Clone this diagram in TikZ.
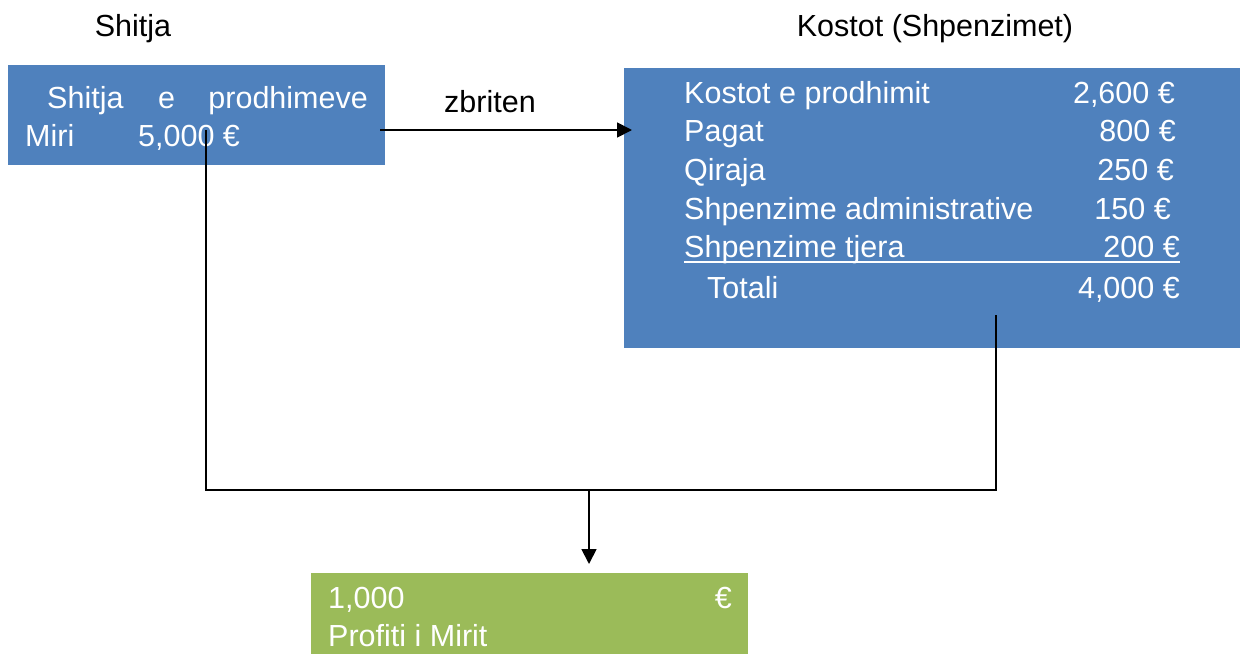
\documentclass[tikz,border=0pt]{standalone}
\usepackage{fontspec}
\setmainfont{Liberation Sans}
\usetikzlibrary{arrows.meta}
\definecolor{boxblue}{HTML}{4F81BD}
\definecolor{boxgreen}{HTML}{9BBB59}
\begin{document}
\begin{tikzpicture}[x=1pt,y=-1pt,
  txt/.style={inner sep=0pt,font=\fontsize{30.5}{33}\selectfont},
  wtxt/.style={txt,text=white},
  conn/.style={draw=black,line width=1.8pt},
  arr/.style={conn,-{Triangle[length=15pt,width=15pt]}}]
\useasboundingbox (0,0) rectangle (1240,654);
% boxes
\fill[boxblue] (8,65) rectangle (385,165);
\fill[boxblue] (624,68) rectangle (1240,348);
\fill[boxgreen] (311,573) rectangle (748,654);
% titles
\node[txt,anchor=base] (t1) at (133,36) {Shitja};
\node[txt,anchor=base] (t2) at (935,36) {Kostot (Shpenzimet)};
% left box text
\node[wtxt,anchor=base west] (l1a) at (47,108) {Shitja};
\node[wtxt,anchor=base west] (l1b) at (158,108) {e};
\node[wtxt,anchor=base east] (l1c) at (368,108) {prodhimeve};
\node[wtxt,anchor=base west] (l2a) at (25,146) {Miri};
\node[wtxt,anchor=base west] (l2b) at (138,146) {5,000 €};
% right box text
\node[wtxt,anchor=base west] (r1) at (684,103) {Kostot e prodhimit};
\node[wtxt,anchor=base east] (v1) at (1175,103) {2,600 €};
\node[wtxt,anchor=base west] (r2) at (684,141) {Pagat};
\node[wtxt,anchor=base east] (v2) at (1176,141) {800 €};
\node[wtxt,anchor=base west] (r3) at (684,180) {Qiraja};
\node[wtxt,anchor=base east] (v3) at (1174,180) {250 €};
\node[wtxt,anchor=base west] (r4) at (684,219) {Shpenzime administrative};
\node[wtxt,anchor=base east] (v4) at (1171,219) {150 €};
\node[wtxt,anchor=base west] (r5) at (684,257) {Shpenzime tjera};
\node[wtxt,anchor=base east] (v5) at (1180,257) {200 €};
\draw[white,line width=2.4pt] (684,262) -- (1180,262);
\node[wtxt,anchor=base west] (r6) at (707,298) {Totali};
\node[wtxt,anchor=base east] (v6) at (1180,298) {4,000 €};
% green text
\node[wtxt,anchor=base west] (g1) at (328,608) {1,000};
\node[wtxt,anchor=base east] (g2) at (732,608) {€};
\node[wtxt,anchor=base west] (g3) at (328,646) {Profiti i Mirit};
% connectors
\coordinate (a0) at (380,130);
\coordinate (a1) at (632,130);
\draw[arr] (a0) -- (a1);
\node[txt,anchor=base] (zb) at (490,112) {zbriten};
\coordinate (s0) at (206,130);
\coordinate (s1) at (206,490);
\coordinate (s2) at (996,490);
\coordinate (s3) at (996,315);
\draw[conn] (s0) -- (s1) -- (s2) -- (s3);
\coordinate (d0) at (589,490);
\coordinate (d1) at (589,564);
\draw[arr] (d0) -- (d1);
\end{tikzpicture}
\end{document}
